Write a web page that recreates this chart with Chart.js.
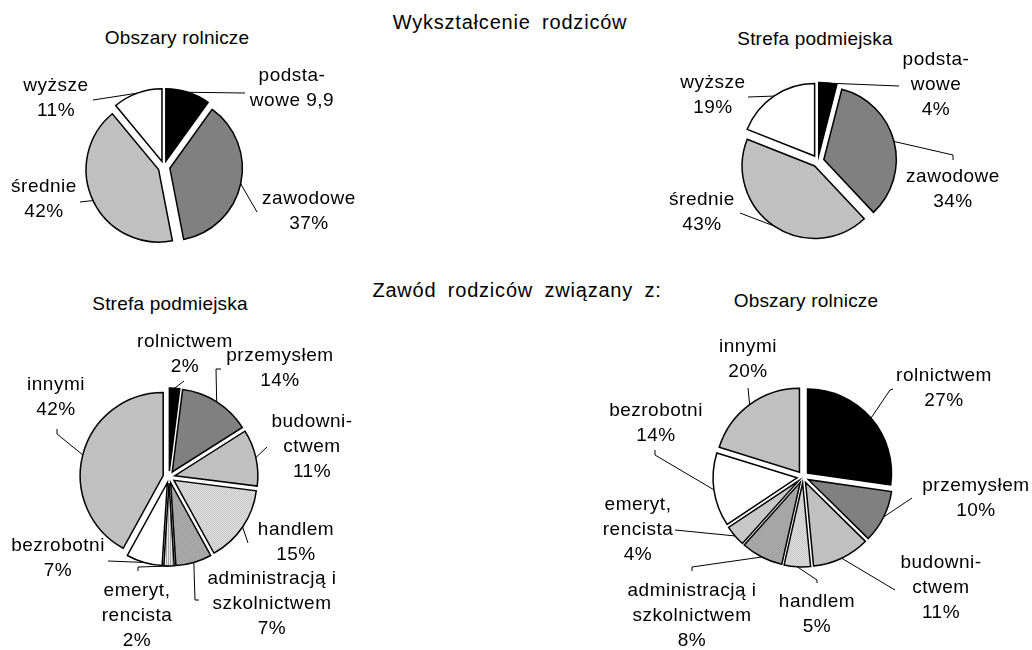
<!DOCTYPE html>
<html>
<head>
<meta charset="utf-8">
<title>Wykształcenie i zawód rodziców</title>
<script src="https://cdn.jsdelivr.net/npm/chart.js@4.4.0/dist/chart.umd.min.js"></script>
<style>
body { margin: 0; background: #fff; width: 1032px; height: 650px; position: relative; overflow: hidden;
       font-family: "Liberation Sans", Arial, sans-serif; color: #000; }
canvas { position: absolute; left: 0; top: 0; }
.title { position: absolute; white-space: pre; transform: translateX(-50%); }
.main { font-size: 20px; line-height: 20px; letter-spacing: 0.8px; word-spacing: 5px; }
.sub { font-size: 19px; line-height: 19px; letter-spacing: 0.2px; }
</style>
</head>
<body>
<div class="title main" style="left:510px; top:12px;">Wykształcenie rodziców</div>
<div class="title main" style="left:517px; top:280px;">Zawód rodziców związany z:</div>
<div class="title sub" style="left:177px; top:28px;">Obszary rolnicze</div>
<div class="title sub" style="left:815px; top:29px;">Strefa podmiejska</div>
<div class="title sub" style="left:170px; top:294px;">Strefa podmiejska</div>
<div class="title sub" style="left:806px; top:291px;">Obszary rolnicze</div>

<canvas id="eduRuralChart" width="1032" height="650"></canvas>
<canvas id="eduSuburbChart" width="1032" height="650"></canvas>
<canvas id="jobSuburbChart" width="1032" height="650"></canvas>
<canvas id="jobRuralChart" width="1032" height="650"></canvas>

<script>
// data
const eduLabels = ['podsta-\nwowe', 'zawodowe', 'średnie', 'wyższe'];
const eduRural = [9.9, 37, 42, 11];
const eduSuburb = [4, 34, 43, 19];

const jobLabels = ['rolnictwem', 'przemysłem', 'budowni-\nctwem', 'handlem',
                   'administracją i\nszkolnictwem', 'emeryt,\nrencista', 'bezrobotni', 'innymi'];
const jobSuburb = [2, 14, 11, 15, 7, 2, 7, 42];
const jobRural = [27, 10, 11, 5, 8, 4, 14, 20];

const W = 1032, H = 650, BOX = 110;

// fill patterns like the old excel ones
function makePattern(ctx, a, b, stripes) {
    const c = document.createElement('canvas');
    c.width = 2; c.height = 2;
    const g = c.getContext('2d');
    g.fillStyle = a; g.fillRect(0, 0, 2, 2);
    g.fillStyle = b;
    if (stripes) {
        g.fillRect(0, 0, 1, 2);
    } else {
        g.fillRect(0, 0, 1, 1); g.fillRect(1, 1, 1, 1);
    }
    return ctx.createPattern(c, 'repeat');
}

function jobColors(ctx) {
    return ['#000000', '#808080', '#c0c0c0',
        makePattern(ctx, '#ffffff', '#a8a8a8'),
        makePattern(ctx, '#d0d0d0', '#7c7c7c'),
        makePattern(ctx, '#e6e6e6', '#a8a8a8', true),
        '#ffffff', '#c0c0c0'];
}
const eduColors = ['#000000', '#808080', '#c0c0c0', '#ffffff'];

function valueText(v) {
    return Number.isInteger(v) ? v + '%' : String(v).replace('.', ',');
}

// exploded slices + labels with leader lines
const pieLabels = {
    id: 'pieLabels',
    beforeDatasetDraw(chart, args, opts) {
        const ctx = chart.ctx;
        args.meta.data.forEach(arc => {
            const mid = (arc.startAngle + arc.endAngle) / 2;
            ctx.save();
            ctx.translate(Math.cos(mid) * opts.explode, Math.sin(mid) * opts.explode);
            arc.draw(ctx);
            ctx.restore();
        });
        return false;
    },
    afterDatasetsDraw(chart, args, opts) {
        const ctx = chart.ctx;
        const arcs = chart.getDatasetMeta(0).data;
        const values = chart.data.datasets[0].data;
        ctx.save();
        ctx.strokeStyle = '#000';
        ctx.lineWidth = 1;
        ctx.fillStyle = '#000';
        ctx.font = '19px "Liberation Sans", Arial, sans-serif';
        ctx.letterSpacing = '0.5px';
        ctx.textAlign = 'center';
        ctx.textBaseline = 'middle';
        arcs.forEach((arc, i) => {
            const spot = opts.spots[i];
            const mid = (arc.startAngle + arc.endAngle) / 2;
            const reach = arc.outerRadius + opts.explode;
            ctx.beginPath();
            ctx.moveTo(arc.x + Math.cos(mid) * reach, arc.y + Math.sin(mid) * reach);
            spot.lead.forEach(p => ctx.lineTo(arc.x + p[0], arc.y + p[1]));
            ctx.stroke();

            const lines = chart.data.labels[i].split('\n');
            const val = valueText(values[i]);
            if (spot.inline) lines[lines.length - 1] += ' ' + val;
            else lines.push(val);
            lines.forEach((t, k) => ctx.fillText(t, arc.x + spot.at[0], arc.y + spot.at[1] + k * 25));
        });
        ctx.restore();
    }
};

function drawPie(id, labels, values, colors, place) {
    return new Chart(document.getElementById(id), {
        type: 'pie',
        data: {
            labels: labels,
            datasets: [{
                data: values,
                backgroundColor: colors,
                borderColor: '#000',
                borderWidth: 1.5,
                borderJoinStyle: 'miter',
                radius: place.r
            }]
        },
        options: {
            responsive: false,
            animation: false,
            events: [],
            radius: place.r,
            layout: {
                padding: { left: place.cx - BOX, right: W - place.cx - BOX, top: place.cy - BOX, bottom: H - place.cy - BOX }
            },
            plugins: {
                legend: { display: false },
                tooltip: { enabled: false },
                pieLabels: { explode: 6, spots: place.spots }
            }
        },
        plugins: [pieLabels]
    });
}

// label spots relative to the pie centre
drawPie('eduRuralChart', eduLabels, eduRural, eduColors, {
    cx: 164, cy: 167, r: 72.5,
    spots: [
        { at: [128, -91], inline: true, lead: [[81, -74]] },
        { at: [145, 32], lead: [[93, 45]] },
        { at: [-120, 20], lead: [[-84, 35]] },
        { at: [-108, -81], lead: [[-71, -67]] }
    ]
});

drawPie('eduSuburbChart', eduLabels, eduSuburb, eduColors, {
    cx: 818, cy: 161, r: 72.5,
    spots: [
        { at: [118, -101], lead: [[81, -75]] },
        { at: [135, 16], lead: [[135, -6], [135, -1]] },
        { at: [-116, 39], lead: [[-78, 52]] },
        { at: [-105, -78], lead: [[-70, -64]] }
    ]
});

const c3 = document.getElementById('jobSuburbChart').getContext('2d');
drawPie('jobSuburbChart', jobLabels, jobSuburb, jobColors(c3), {
    cx: 169, cy: 477, r: 83,
    spots: [
        { at: [16, -135], lead: [[15, -96]] },
        { at: [111, -121], lead: [[47, -108], [52, -108]] },
        { at: [143, -55], lead: [[98, -30]] },
        { at: [127, 53], lead: [[79, 66]] },
        { at: [103, 102], lead: [[26, 123], [30, 123]] },
        { at: [-32, 114], lead: [[-31, 90], [-31, 94]] },
        { at: [-111, 69], lead: [[-61, 84]] },
        { at: [-113, -92], lead: [[-112, -43], [-112, -48]] }
    ]
});

const c4 = document.getElementById('jobRuralChart').getContext('2d');
drawPie('jobRuralChart', jobLabels, jobRural, jobColors(c4), {
    cx: 803, cy: 477, r: 84,
    spots: [
        { at: [141, -101], lead: [[87, -87], [90, -88]] },
        { at: [173, 9], lead: [[109, 21]] },
        { at: [138, 86], lead: [[92, 113]] },
        { at: [14, 125], lead: [[14, 103], [14, 106]] },
        { at: [-111, 114], lead: [[-111, 90], [-111, 94]] },
        { at: [-165, 28], lead: [[-128, 53]] },
        { at: [-147, -66], lead: [[-148, -22], [-148, -27]] },
        { at: [-55, -130], lead: [[-55, -89]] }
    ]
});
</script>
</body>
</html>
